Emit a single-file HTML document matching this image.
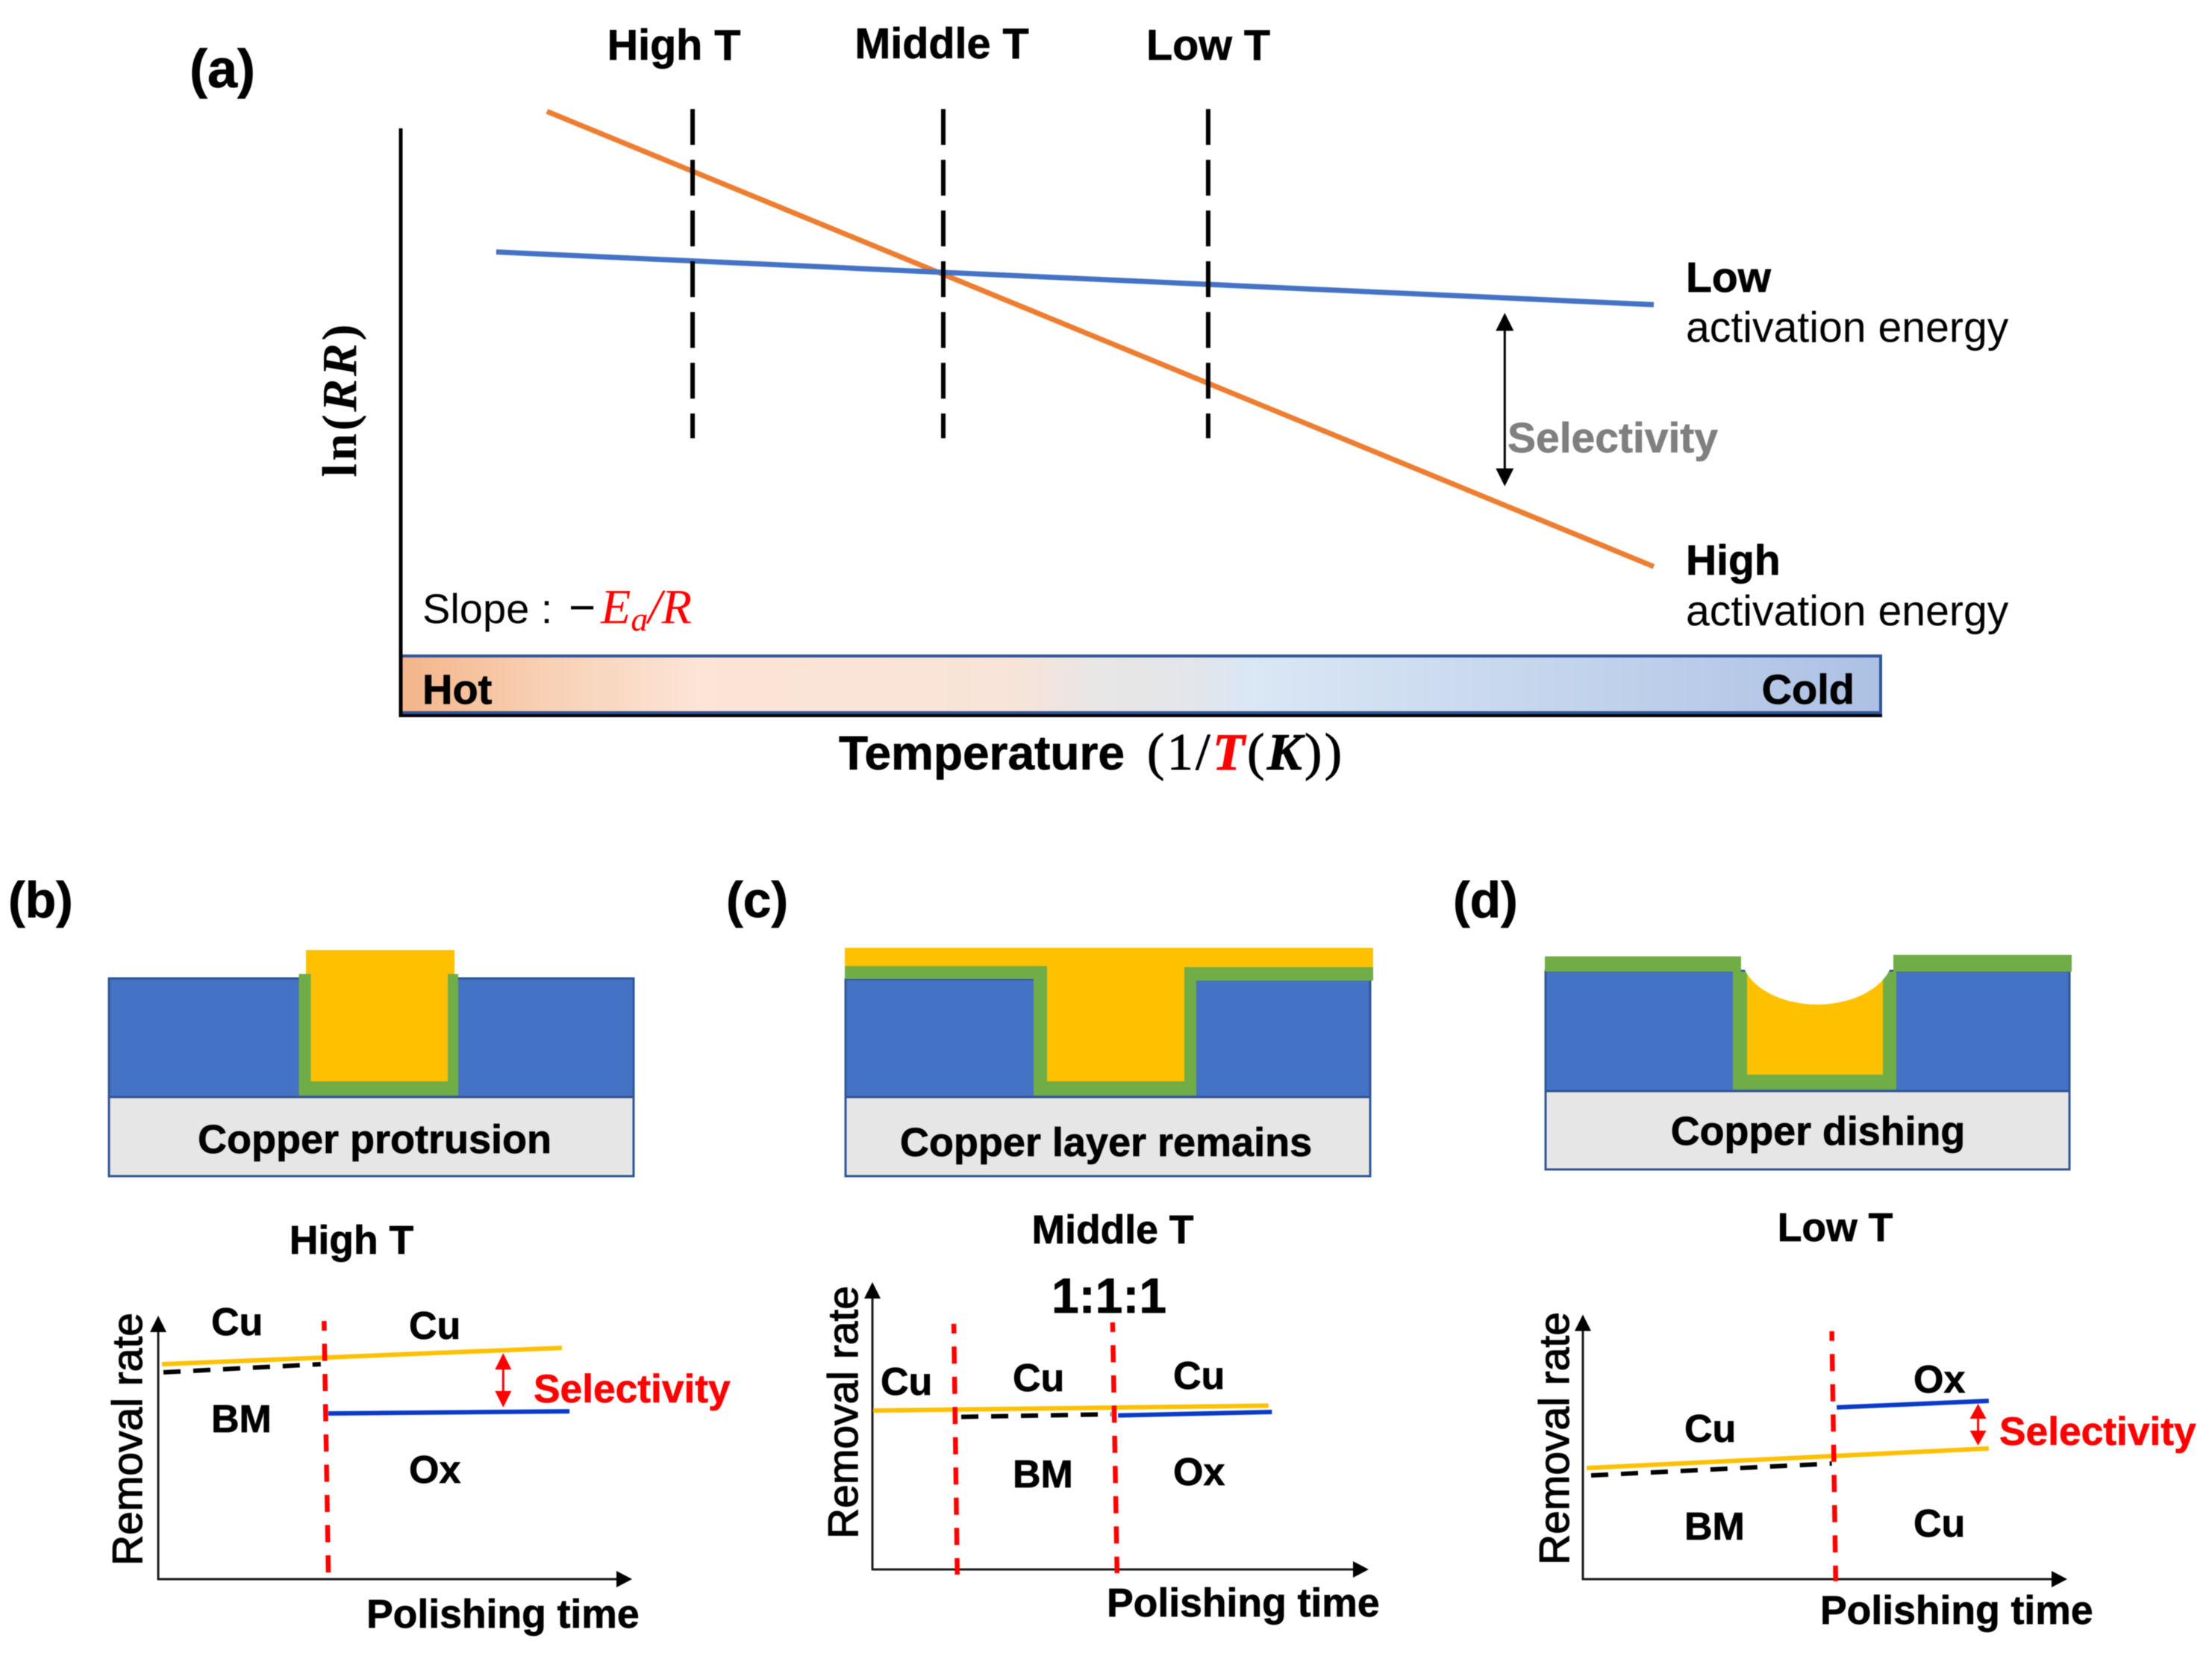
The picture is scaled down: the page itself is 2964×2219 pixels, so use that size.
<!DOCTYPE html>
<html lang="en">
<head>
<meta charset="utf-8">
<title>Activation energy and CMP selectivity</title>
<style>
html,body{margin:0;padding:0;background:#fff;}
svg{display:block;filter:blur(0.6px);}
text{font-family:"Liberation Sans",sans-serif;fill:#000;}
.b{font-weight:700;stroke:#000;stroke-width:0.7;}
.red{fill:#ff0000;stroke:#ff0000;}
.serif{font-family:"Liberation Serif",serif;}
</style>
</head>
<body>
<svg xmlns="http://www.w3.org/2000/svg" width="2964" height="2219" viewBox="0 0 2964 2219">
<defs>
<linearGradient id="tempGrad" x1="0" x2="1" y1="0" y2="0">
<stop offset="0" stop-color="#f4b589"/>
<stop offset="0.096" stop-color="#f8d0b4"/>
<stop offset="0.2" stop-color="#fce4d6"/>
<stop offset="0.41" stop-color="#f8e4d8"/>
<stop offset="0.47" stop-color="#e9e6e6"/>
<stop offset="0.535" stop-color="#e3e6ea"/>
<stop offset="0.577" stop-color="#dae7f5"/>
<stop offset="1" stop-color="#adc1e4"/>
</linearGradient>
</defs>
<rect width="2964" height="2219" fill="#fff"/>

<!-- Panel (a) static -->
<text class="b" x="254" y="117" font-size="72">(a)</text>
<text class="b" x="903" y="80" font-size="57.5" text-anchor="middle">High T</text>
<text class="b" x="1262" y="78" font-size="57.5" text-anchor="middle">Middle T</text>
<text class="b" x="1619" y="80" font-size="57.5" text-anchor="middle">Low T</text>
<text class="serif" font-weight="700" font-size="66" transform="translate(477,537) rotate(-90)" text-anchor="middle" textLength="205">ln(<tspan font-style="italic">RR</tspan>)</text>
<rect x="537" y="879" width="1983" height="76" fill="url(#tempGrad)" stroke="#2f5597" stroke-width="4"/>
<line x1="535" y1="959" x2="2522" y2="959" stroke="#000" stroke-width="4"/>
<line x1="537" y1="172" x2="537" y2="961" stroke="#000" stroke-width="5"/>
<text class="b" x="566" y="943" font-size="56">Hot</text>
<text class="b" x="2485" y="943" font-size="56" text-anchor="end">Cold</text>
<text x="566" y="835" font-size="56">Slope :</text>
<text x="762" y="835" font-size="62">−</text>
<text class="serif" x="805" y="835" font-size="66" font-style="italic" style="fill:#ff0000">E<tspan font-size="46" dy="10">a</tspan><tspan dy="-10">/R</tspan></text>
<text class="b" x="1124" y="1031" font-size="64">Temperature</text>
<text class="serif" x="1537" y="1031" font-size="70" stroke="#000" stroke-width="1" textLength="261">(1/<tspan font-style="italic" font-weight="700" style="fill:#ff0000;stroke:#ff0000">T</tspan>(<tspan font-style="italic" font-weight="700">K</tspan>))</text>
<text class="b" x="2259" y="391" font-size="57">Low</text>
<text x="2259" y="458" font-size="57.2">activation energy</text>
<text class="b" x="2259" y="770" font-size="57">High</text>
<text x="2259" y="838" font-size="57.2">activation energy</text>
<text class="b" x="2020" y="606" font-size="57" style="fill:#7f7f7f;stroke:#7f7f7f">Selectivity</text>
<g id="panelA"></g>

<!-- Panel (b) schematic -->
<text class="b" x="11" y="1229" font-size="68">(b)</text>
<rect x="146" y="1311" width="703" height="159" fill="#4472c4" stroke="#2f5597" stroke-width="3"/>
<rect x="146" y="1470" width="703" height="106" fill="#e7e6e6" stroke="#2f5597" stroke-width="3"/>
<rect x="410" y="1273" width="199" height="180" fill="#ffc000"/>
<path d="M400.5 1305H416.5V1449H600V1305H614V1468H400.5Z" fill="#70ad47"/>
<text class="b" x="502" y="1545" font-size="54" text-anchor="middle">Copper protrusion</text>
<text class="b" x="471" y="1680" font-size="53.5" text-anchor="middle">High T</text>
<text font-size="57" stroke="#000" stroke-width="1.2" transform="translate(190,2098) rotate(-90)">Removal rate</text>
<text class="b" x="283" y="1789" font-size="52">Cu</text>
<text class="b" x="548" y="1794" font-size="52">Cu</text>
<text class="b" x="283" y="1919" font-size="52">BM</text>
<text class="b" x="548" y="1987" font-size="52">Ox</text>
<text class="b red" x="715" y="1879" font-size="53.3">Selectivity</text>
<text class="b" x="491" y="2181" font-size="53.5">Polishing time</text>
<g id="panelB"></g>

<!-- Panel (c) schematic -->
<text class="b" x="973" y="1229" font-size="68">(c)</text>
<rect x="1133" y="1312" width="703" height="158" fill="#4472c4" stroke="#2f5597" stroke-width="3"/>
<rect x="1133" y="1470" width="703" height="106" fill="#e7e6e6" stroke="#2f5597" stroke-width="3"/>
<path d="M1132 1270H1840V1296H1587V1449H1403V1296H1132Z" fill="#ffc000"/>
<path d="M1132 1294.5H1403V1449H1587V1296H1840V1314H1603V1468H1385V1312H1132Z" fill="#70ad47"/>
<text class="b" x="1482" y="1549" font-size="54" text-anchor="middle">Copper layer remains</text>
<text class="b" x="1491" y="1666" font-size="53.5" text-anchor="middle">Middle T</text>
<text class="b" x="1486" y="1759" font-size="66" text-anchor="middle">1:1:1</text>
<text font-size="57" stroke="#000" stroke-width="1.2" transform="translate(1149,2062) rotate(-90)">Removal rate</text>
<text class="b" x="1180" y="1869" font-size="52">Cu</text>
<text class="b" x="1357" y="1864" font-size="52">Cu</text>
<text class="b" x="1572" y="1861" font-size="52">Cu</text>
<text class="b" x="1357" y="1993" font-size="52">BM</text>
<text class="b" x="1572" y="1990" font-size="52">Ox</text>
<text class="b" x="1483" y="2166" font-size="53.5">Polishing time</text>
<g id="panelC"></g>

<!-- Panel (d) schematic -->
<text class="b" x="1947" y="1229" font-size="68">(d)</text>
<rect x="2071" y="1301" width="702" height="161" fill="#4472c4" stroke="#2f5597" stroke-width="3"/>
<rect x="2071" y="1462" width="702" height="105" fill="#e7e6e6" stroke="#2f5597" stroke-width="3"/>
<rect x="2341" y="1290" width="182" height="152" fill="#ffc000"/>
<path d="M2070 1281.5H2333V1302H2341V1440H2523V1302H2537V1279.5H2776V1302H2541V1460H2322V1302H2070Z" fill="#70ad47"/>
<path d="M2333 1279A102 67 0 0 0 2537 1279Z" fill="#fff"/>
<text class="b" x="2436" y="1534" font-size="53.8" text-anchor="middle">Copper dishing</text>
<text class="b" x="2459" y="1663" font-size="53.5" text-anchor="middle">Low T</text>
<text font-size="57" stroke="#000" stroke-width="1.2" transform="translate(2102,2097) rotate(-90)">Removal rate</text>
<text class="b" x="2257" y="1932" font-size="52">Cu</text>
<text class="b" x="2257" y="2063" font-size="52">BM</text>
<text class="b" x="2564" y="1866" font-size="52">Ox</text>
<text class="b" x="2564" y="2059" font-size="52">Cu</text>
<text class="b red" x="2679" y="1936" font-size="53.3">Selectivity</text>
<text class="b" x="2439" y="2176" font-size="53.5">Polishing time</text>
<g id="panelD"></g>
</svg>

<script>
// Panel (a): normalised 1/T (0-100) and ln(RR) (0-100)
const highEaInvT = [9.88, 84.67];
const highEaLnRR = [102.9, 25.2];
const lowEaInvT = [6.45, 84.67];
const lowEaLnRR = [78.9, 69.9];
const tempMarkerInvT = [19.72, 36.66, 54.56];
const tempMarkerNames = ['high-t', 'middle-t', 'low-t'];
const tempMarkerLnRR = [103.3, 47.1];
const selectivityAInvT = [74.6];
const selectivityALnRR = [68.5, 38.9];

// Panel (b): normalised polishing time and removal rate (0-100)
const bCuTime = [0.8, 85.2];
const bCuRate = [81.6, 87.8];
const bBmTime = [1.1, 34.3];
const bBmRate = [78.5, 81.6];
const bOxTime = [35.9, 86.8];
const bOxRate = [62.9, 63.7];
const bStepTop = [[35.0, 98.0]];
const bStepBottom = [[35.9, 2.3]];
const bSelectivityTime = [72.8];
const bSelectivityRate = [85.8, 65.2];

// Panel (c)
const cCuTime = [0.15, 79.8];
const cCuRate = [55.3, 57.0];
const cBmTime = [17.9, 48.1];
const cBmRate = [53.1, 54.0];
const cOxTime = [49.5, 80.5];
const cOxRate = [53.6, 54.8];
const cStepTop = [[16.4, 85.5], [48.4, 86.0]];
const cStepBottom = [[17.1, -1.8], [49.3, -1.3]];

// Panel (d)
const dCuTime = [0.8, 83.8];
const dCuRate = [42.0, 49.4];
const dBmTime = [1.7, 51.4];
const dBmRate = [39.2, 43.7];
const dOxTime = [52.4, 83.8];
const dOxRate = [64.9, 67.4];
const dStepTop = [[51.4, 93.7]];
const dStepBottom = [[52.2, -0.8]];
const dSelectivityTime = [81.6];
const dSelectivityRate = [66.3, 50.5];

const NS = 'http://www.w3.org/2000/svg';

function linear(d0, d1, r0, r1) {
  return function (v) { return r0 + (v - d0) * (r1 - r0) / (d1 - d0); };
}

function drawLine(parent, name, x1, y1, x2, y2, color, width, dash, offset) {
  const el = document.createElementNS(NS, 'line');
  
  
  el.setAttribute('x1', x1);
  el.setAttribute('y1', y1);
  el.setAttribute('x2', x2);
  el.setAttribute('y2', y2);
  el.setAttribute('stroke', color);
  el.setAttribute('stroke-width', width);
  if (dash) el.setAttribute('stroke-dasharray', dash);
  if (offset) el.setAttribute('stroke-dashoffset', offset);
  parent.appendChild(el);
}

function drawHead(parent, name, tipX, tipY, dirX, dirY, len, half, color) {
  const el = document.createElementNS(NS, 'polygon');
  
  
  const bx = tipX - dirX * len;
  const by = tipY - dirY * len;
  const pts = [tipX, tipY, bx - dirY * half, by + dirX * half, bx + dirY * half, by - dirX * half];
  el.setAttribute('points', pts.join(' '));
  el.setAttribute('fill', color);
  parent.appendChild(el);
}

function drawDoubleArrow(parent, name, x, yTop, yBottom, color, width, len, half) {
  drawLine(parent, name + '-shaft', x, yTop + len - 2, x, yBottom - len + 2, color, width);
  drawHead(parent, name + '-head-up', x, yTop, 0, -1, len, half, color);
  drawHead(parent, name + '-head-down', x, yBottom, 0, 1, len, half, color);
}

function drawRatePlot(id, suffix, left, right, bottom, top, cuT, cuR, bmT, bmR, oxT, oxR, stepTop, stepBottom) {
  const g = document.getElementById(id);
  const sx = linear(0, 100, left, right);
  const sy = linear(0, 100, bottom, top);
  drawLine(g, 'y-axis-' + suffix, left, top + 18, left, bottom + 1, '#1a1a1a', 3);
  drawLine(g, 'x-axis-' + suffix, left - 1, bottom, right - 18, bottom, '#1a1a1a', 3);
  drawHead(g, 'y-axis-arrow-' + suffix, left, top, 0, -1, 22, 11, '#000');
  drawHead(g, 'x-axis-arrow-' + suffix, right, bottom, 1, 0, 21, 11, '#000');
  drawLine(g, 'cu-line-' + suffix, sx(cuT[0]), sy(cuR[0]), sx(cuT[1]), sy(cuR[1]), '#ffc000', 6);
  drawLine(g, 'bm-line-' + suffix, sx(bmT[0]), sy(bmR[0]), sx(bmT[1]), sy(bmR[1]), '#000', 6, '23 17');
  drawLine(g, 'ox-line-' + suffix, sx(oxT[0]), sy(oxR[0]), sx(oxT[1]), sy(oxR[1]), '#0a3bc8', 6);
  for (let i = 0; i < stepTop.length; i++) {
    drawLine(g, 'transition-line-' + suffix + '-' + (i + 1), sx(stepTop[i][0]), sy(stepTop[i][1]), sx(stepBottom[i][0]), sy(stepBottom[i][1]), '#ff0000', 6.5, '23 17.5', 10);
  }
  return { g: g, sx: sx, sy: sy };
}

// Panel (a)
(function () {
  const g = document.getElementById('panelA');
  const sx = linear(0, 100, 537, 2520);
  const sy = linear(0, 100, 957, 172);
  drawLine(g, 'high-activation-energy-line', sx(highEaInvT[0]), sy(highEaLnRR[0]), sx(highEaInvT[1]), sy(highEaLnRR[1]), '#ed7d31', 7);
  drawLine(g, 'low-activation-energy-line', sx(lowEaInvT[0]), sy(lowEaLnRR[0]), sx(lowEaInvT[1]), sy(lowEaLnRR[1]), '#4472c4', 7);
  tempMarkerInvT.forEach(function (v, i) {
    drawLine(g, tempMarkerNames[i] + '-marker', sx(v), sy(tempMarkerLnRR[0]), sx(v), sy(tempMarkerLnRR[1]), '#000', 6, '48 20');
  });
  drawDoubleArrow(g, 'selectivity-arrow-a', sx(selectivityAInvT[0]), sy(selectivityALnRR[0]), sy(selectivityALnRR[1]), '#000', 3, 24, 12);
})();

// Panels (b), (c), (d)
const plotB = drawRatePlot('panelB', 'b', 212, 847, 2116, 1763, bCuTime, bCuRate, bBmTime, bBmRate, bOxTime, bOxRate, bStepTop, bStepBottom);
drawDoubleArrow(plotB.g, 'selectivity-arrow-b', plotB.sx(bSelectivityTime[0]), plotB.sy(bSelectivityRate[0]), plotB.sy(bSelectivityRate[1]), '#ff0000', 3, 22, 11);
drawRatePlot('panelC', 'c', 1169, 1834, 2103, 1718, cCuTime, cCuRate, cBmTime, cBmRate, cOxTime, cOxRate, cStepTop, cStepBottom);
const plotD = drawRatePlot('panelD', 'd', 2121, 2770, 2116, 1761.5, dCuTime, dCuRate, dBmTime, dBmRate, dOxTime, dOxRate, dStepTop, dStepBottom);
drawDoubleArrow(plotD.g, 'selectivity-arrow-d', plotD.sx(dSelectivityTime[0]), plotD.sy(dSelectivityRate[0]), plotD.sy(dSelectivityRate[1]), '#ff0000', 3, 20, 11);
</script>
</body>
</html>
